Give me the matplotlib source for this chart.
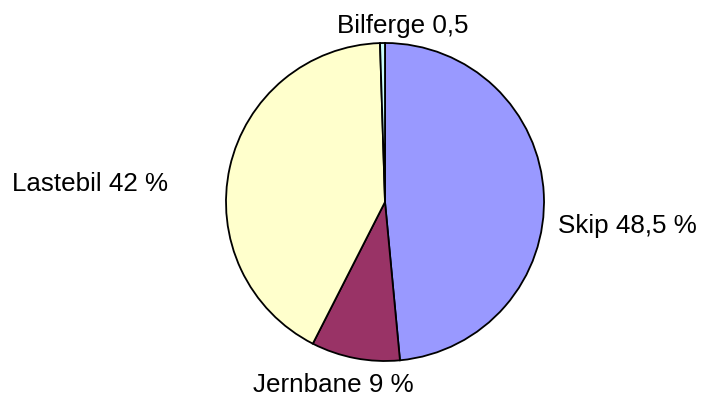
import matplotlib as mpl
import matplotlib.pyplot as plt

mpl.rcParams['font.family'] = ['Liberation Sans', 'DejaVu Sans']

# transport shares, clockwise from 12 o'clock
modes = ['Skip', 'Jernbane', 'Lastebil', 'Bilferge']
shares = [48.5, 9, 42, 0.5]
labels = ['Skip 48,5 %', 'Jernbane 9 %', 'Lastebil 42 %', 'Bilferge 0,5']
colors = ['#9999FF', '#993366', '#FFFFCC', '#CCFFFF']

# label anchors (left, baseline) in pixels from top-left
label_pos = [(558, 233), (253, 392), (12, 191), (337, 33)]

W, H = 701, 396
fig = plt.figure(figsize=(W / 100, H / 100), dpi=100, facecolor='white')
ax = fig.add_axes([0, 0, 1, 1])
ax.set_xlim(0, W)
ax.set_ylim(0, H)
ax.set_aspect('equal')
ax.axis('off')

ax.pie(shares, colors=colors, startangle=90, counterclock=False,
       center=(385, H - 202), radius=159,
       wedgeprops=dict(edgecolor='black', linewidth=1.3))
ax.set_xlim(0, W)
ax.set_ylim(0, H)

for lab, (x, y) in zip(labels, label_pos):
    ax.text(x, H - y, lab, ha='left', va='baseline', fontsize=18.7, color='black')

plt.savefig('out.png', dpi=100, facecolor='white')
